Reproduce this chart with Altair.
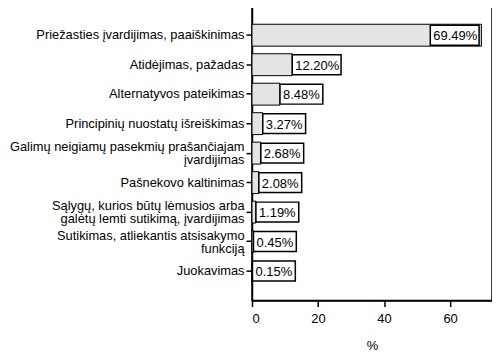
import altair as alt
import pandas as pd

categories = [
    "Priežasties įvardijimas, paaiškinimas",
    "Atidėjimas, pažadas",
    "Alternatyvos pateikimas",
    "Principinių nuostatų išreiškimas",
    "Galimų neigiamų pasekmių prašančiajam\nįvardijimas",
    "Pašnekovo kaltinimas",
    "Sąlygų, kurios būtų lėmusios arba\ngalėtų lemti sutikimą, įvardijimas",
    "Sutikimas, atliekantis atsisakymo\nfunkciją",
    "Juokavimas",
]
values = [69.49, 12.20, 8.48, 3.27, 2.68, 2.08, 1.19, 0.45, 0.15]
x_ticks = [0, 20, 40, 60]

df = pd.DataFrame({"cat": categories, "value": values})

FONT = "Liberation Sans"
XMAX = 72.7
PX_PER_UNIT = 241 / XMAX

xscale = alt.Scale(domain=[0, XMAX], nice=False, zero=True)
yscale = alt.Scale(domain=categories, paddingInner=0.2, paddingOuter=0.6)

base = alt.Chart(df).transform_calculate(
    label="format(datum.value, '.2f') + '%'"
).transform_calculate(
    boxw=f"(length(datum.label) * 6 + 13) / {PX_PER_UNIT}"
).transform_calculate(
    inside=f"datum.value + datum.boxw > {XMAX}"
).transform_calculate(
    boxstart=f"datum.inside ? datum.value - datum.boxw - 0.7 : datum.value",
    boxend=f"datum.inside ? datum.value - 0.7 : datum.value + datum.boxw",
)

ycommon = alt.Y(
    "cat:N",
    scale=yscale,
    sort=categories,
    title=None,
    axis=alt.Axis(
        labelExpr="split(datum.label, '\\n')",
        labelFontSize=12.9,
        labelFont=FONT,
        labelColor="black",
        labelPadding=2,
        labelLimit=300,
        labelLineHeight=13,
        labelOffset={
            "condition": {"test": "indexof(datum.value, '\\n') >= 0", "value": -6},
            "value": 0,
        },
        tickSize=6,
        tickColor="black",
        tickWidth=1.5,
        domainColor="black",
        domainWidth=1.5,
    ),
)

bars = base.mark_bar(
    size=22, fill="#e4e4e4", stroke="black", strokeWidth=1
).encode(
    x=alt.X(
        "value:Q",
        scale=xscale,
        title="%",
        axis=alt.Axis(
            values=x_ticks,
            grid=False,
            labelFontSize=13,
            labelFont=FONT,
            labelColor="black",
            labelPadding=6,
            tickSize=6,
            tickColor="black",
            tickWidth=1.5,
            domainColor="black",
            domainWidth=1.5,
            titleFont=FONT,
            titleFontSize=13,
            titleFontWeight="normal",
            titleColor="black",
            titlePadding=14,
        ),
    ),
    y=ycommon,
)

boxes = base.mark_bar(
    size=20, fill="white", stroke="black", strokeWidth=1.5
).encode(
    x=alt.X("boxstart:Q", scale=xscale),
    x2="boxend:Q",
    y=alt.Y("cat:N", scale=yscale, sort=categories),
)

texts = base.mark_text(
    align="left", baseline="middle", dx=3, dy=1, font=FONT, fontSize=13, color="black"
).encode(
    x=alt.X("boxstart:Q", scale=xscale),
    y=alt.Y("cat:N", scale=yscale, sort=categories),
    text="label:N",
)

chart = alt.layer(bars, boxes, texts).properties(
    width=241,
    height=296,
    autosize=alt.AutoSizeParams(type="none"),
    padding={"left": 245, "top": -3, "right": 0, "bottom": 58},
    background="white",
).configure_view(
    stroke="black", strokeWidth=1.5
)

chart.save("out.html", embed_options={"renderer": "svg", "actions": False})
